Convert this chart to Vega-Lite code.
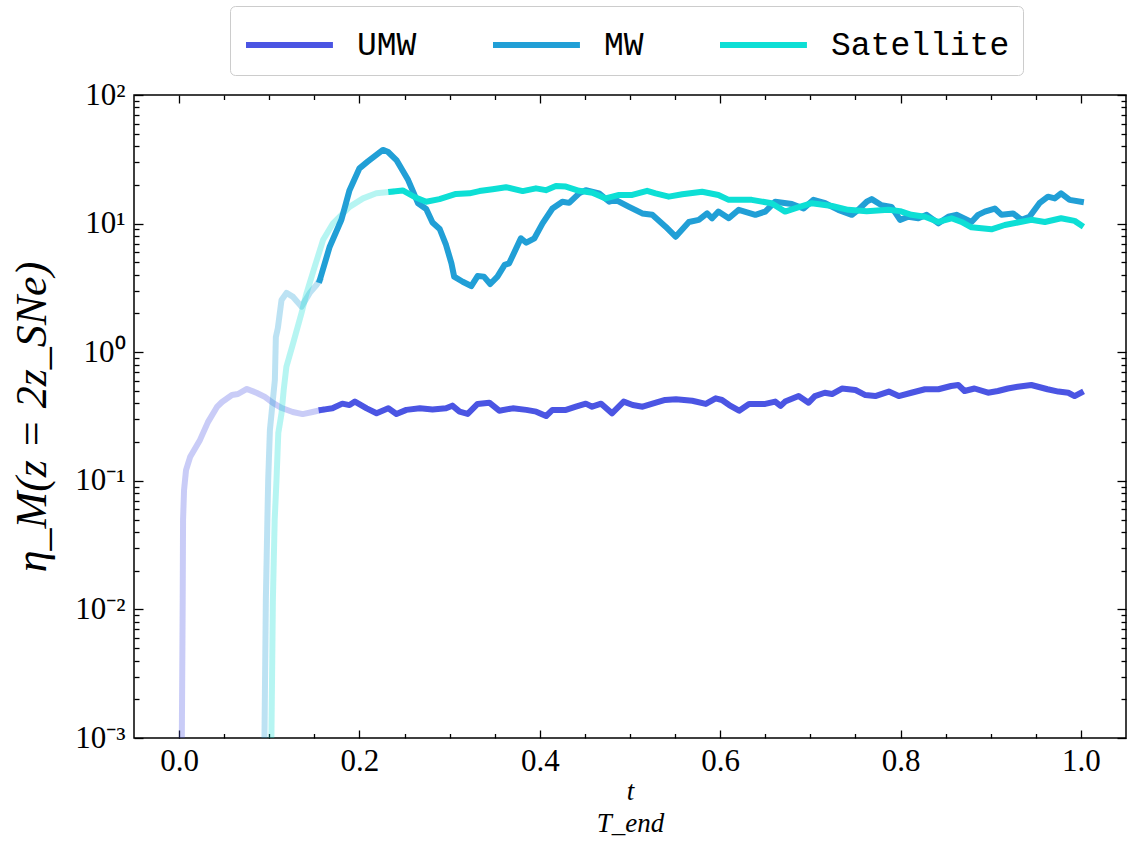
{
  "$schema": "https://vega.github.io/schema/vega-lite/v6.json",
  "width": 992,
  "height": 643,
  "autosize": {"type": "none"},
  "padding": {"left": 134, "top": 95, "right": 2, "bottom": 105},
  "background": "white",
  "config": {
    "font": "Liberation Serif",
    "view": {"stroke": "black", "strokeWidth": 1.5},
    "axis": {
      "grid": false,
      "domain": false,
      "tickColor": "black",
      "tickWidth": 1.3,
      "labelColor": "black",
      "labelFont": "Liberation Serif",
      "labelFontSize": 31,
      "labelFlush": false,
      "labelOverlap": false,
      "titleColor": "black",
      "titleFont": "Liberation Serif"
    }
  },
  "data": {
    "values": [
      {"s":"UMW","g":"f","t":0.003,"v":0.0009},
      {"s":"UMW","g":"f","t":0.004,"v":0.0118},
      {"s":"UMW","g":"f","t":0.0044,"v":0.0496},
      {"s":"UMW","g":"f","t":0.0055,"v":0.0848},
      {"s":"UMW","g":"f","t":0.0077,"v":0.121},
      {"s":"UMW","g":"f","t":0.0122,"v":0.153},
      {"s":"UMW","g":"f","t":0.0232,"v":0.208},
      {"s":"UMW","g":"f","t":0.032,"v":0.286},
      {"s":"UMW","g":"f","t":0.042,"v":0.375},
      {"s":"UMW","g":"f","t":0.0476,"v":0.41},
      {"s":"UMW","g":"f","t":0.0586,"v":0.465},
      {"s":"UMW","g":"f","t":0.0653,"v":0.473},
      {"s":"UMW","g":"f","t":0.0752,"v":0.518},
      {"s":"UMW","g":"f","t":0.0863,"v":0.482},
      {"s":"UMW","g":"f","t":0.0951,"v":0.449},
      {"s":"UMW","g":"f","t":0.104,"v":0.403},
      {"s":"UMW","g":"f","t":0.114,"v":0.368},
      {"s":"UMW","g":"f","t":0.126,"v":0.343},
      {"s":"UMW","g":"f","t":0.137,"v":0.33},
      {"s":"UMW","g":"f","t":0.148,"v":0.343},
      {"s":"UMW","g":"f","t":0.158,"v":0.356},
      {"s":"UMW","g":"s","t":0.158,"v":0.356},
      {"s":"UMW","g":"s","t":0.170,"v":0.366},
      {"s":"UMW","g":"s","t":0.181,"v":0.398},
      {"s":"UMW","g":"s","t":0.189,"v":0.388},
      {"s":"UMW","g":"s","t":0.195,"v":0.413},
      {"s":"UMW","g":"s","t":0.208,"v":0.366},
      {"s":"UMW","g":"s","t":0.219,"v":0.335},
      {"s":"UMW","g":"s","t":0.232,"v":0.366},
      {"s":"UMW","g":"s","t":0.241,"v":0.331},
      {"s":"UMW","g":"s","t":0.252,"v":0.356},
      {"s":"UMW","g":"s","t":0.267,"v":0.366},
      {"s":"UMW","g":"s","t":0.281,"v":0.359},
      {"s":"UMW","g":"s","t":0.296,"v":0.366},
      {"s":"UMW","g":"s","t":0.303,"v":0.384},
      {"s":"UMW","g":"s","t":0.311,"v":0.345},
      {"s":"UMW","g":"s","t":0.320,"v":0.331},
      {"s":"UMW","g":"s","t":0.331,"v":0.396},
      {"s":"UMW","g":"s","t":0.344,"v":0.405},
      {"s":"UMW","g":"s","t":0.355,"v":0.351},
      {"s":"UMW","g":"s","t":0.370,"v":0.366},
      {"s":"UMW","g":"s","t":0.385,"v":0.356},
      {"s":"UMW","g":"s","t":0.396,"v":0.345},
      {"s":"UMW","g":"s","t":0.407,"v":0.319},
      {"s":"UMW","g":"s","t":0.414,"v":0.356},
      {"s":"UMW","g":"s","t":0.429,"v":0.356},
      {"s":"UMW","g":"s","t":0.440,"v":0.377},
      {"s":"UMW","g":"s","t":0.451,"v":0.398},
      {"s":"UMW","g":"s","t":0.458,"v":0.377},
      {"s":"UMW","g":"s","t":0.468,"v":0.398},
      {"s":"UMW","g":"s","t":0.480,"v":0.335},
      {"s":"UMW","g":"s","t":0.493,"v":0.413},
      {"s":"UMW","g":"s","t":0.503,"v":0.388},
      {"s":"UMW","g":"s","t":0.514,"v":0.377},
      {"s":"UMW","g":"s","t":0.525,"v":0.398},
      {"s":"UMW","g":"s","t":0.539,"v":0.425},
      {"s":"UMW","g":"s","t":0.551,"v":0.430},
      {"s":"UMW","g":"s","t":0.569,"v":0.419},
      {"s":"UMW","g":"s","t":0.584,"v":0.396},
      {"s":"UMW","g":"s","t":0.595,"v":0.438},
      {"s":"UMW","g":"s","t":0.602,"v":0.425},
      {"s":"UMW","g":"s","t":0.610,"v":0.388},
      {"s":"UMW","g":"s","t":0.621,"v":0.351},
      {"s":"UMW","g":"s","t":0.632,"v":0.396},
      {"s":"UMW","g":"s","t":0.650,"v":0.396},
      {"s":"UMW","g":"s","t":0.661,"v":0.413},
      {"s":"UMW","g":"s","t":0.667,"v":0.382},
      {"s":"UMW","g":"s","t":0.672,"v":0.413},
      {"s":"UMW","g":"s","t":0.687,"v":0.456},
      {"s":"UMW","g":"s","t":0.698,"v":0.405},
      {"s":"UMW","g":"s","t":0.705,"v":0.456},
      {"s":"UMW","g":"s","t":0.716,"v":0.484},
      {"s":"UMW","g":"s","t":0.724,"v":0.473},
      {"s":"UMW","g":"s","t":0.735,"v":0.522},
      {"s":"UMW","g":"s","t":0.750,"v":0.508},
      {"s":"UMW","g":"s","t":0.761,"v":0.464},
      {"s":"UMW","g":"s","t":0.772,"v":0.456},
      {"s":"UMW","g":"s","t":0.787,"v":0.494},
      {"s":"UMW","g":"s","t":0.798,"v":0.456},
      {"s":"UMW","g":"s","t":0.812,"v":0.484},
      {"s":"UMW","g":"s","t":0.827,"v":0.515},
      {"s":"UMW","g":"s","t":0.842,"v":0.515},
      {"s":"UMW","g":"s","t":0.856,"v":0.546},
      {"s":"UMW","g":"s","t":0.864,"v":0.556},
      {"s":"UMW","g":"s","t":0.871,"v":0.499},
      {"s":"UMW","g":"s","t":0.882,"v":0.522},
      {"s":"UMW","g":"s","t":0.897,"v":0.484},
      {"s":"UMW","g":"s","t":0.908,"v":0.499},
      {"s":"UMW","g":"s","t":0.919,"v":0.522},
      {"s":"UMW","g":"s","t":0.930,"v":0.539},
      {"s":"UMW","g":"s","t":0.945,"v":0.556},
      {"s":"UMW","g":"s","t":0.963,"v":0.515},
      {"s":"UMW","g":"s","t":0.975,"v":0.494},
      {"s":"UMW","g":"s","t":0.986,"v":0.484},
      {"s":"UMW","g":"s","t":0.993,"v":0.456},
      {"s":"UMW","g":"s","t":1.0,"v":0.484},
      {"s":"MW","g":"f","t":0.0946,"v":0.0009},
      {"s":"MW","g":"f","t":0.0962,"v":0.0118},
      {"s":"MW","g":"f","t":0.0979,"v":0.0496},
      {"s":"MW","g":"f","t":0.0988,"v":0.1014},
      {"s":"MW","g":"f","t":0.1007,"v":0.248},
      {"s":"MW","g":"f","t":0.1062,"v":0.608},
      {"s":"MW","g":"f","t":0.1073,"v":1.31},
      {"s":"MW","g":"f","t":0.1095,"v":1.54},
      {"s":"MW","g":"f","t":0.1136,"v":2.55},
      {"s":"MW","g":"f","t":0.1191,"v":2.89},
      {"s":"MW","g":"f","t":0.1264,"v":2.69},
      {"s":"MW","g":"f","t":0.1357,"v":2.26},
      {"s":"MW","g":"f","t":0.1449,"v":2.89},
      {"s":"MW","g":"f","t":0.1523,"v":3.33},
      {"s":"MW","g":"f","t":0.156,"v":3.64},
      {"s":"MW","g":"s","t":0.156,"v":3.64},
      {"s":"MW","g":"s","t":0.167,"v":6.61},
      {"s":"MW","g":"s","t":0.180,"v":10.7},
      {"s":"MW","g":"s","t":0.189,"v":18.2},
      {"s":"MW","g":"s","t":0.200,"v":26.9},
      {"s":"MW","g":"s","t":0.209,"v":30.3},
      {"s":"MW","g":"s","t":0.226,"v":37.4},
      {"s":"MW","g":"s","t":0.2315,"v":36.2},
      {"s":"MW","g":"s","t":0.241,"v":31.2},
      {"s":"MW","g":"s","t":0.254,"v":21.8},
      {"s":"MW","g":"s","t":0.265,"v":14.4},
      {"s":"MW","g":"s","t":0.274,"v":13.0},
      {"s":"MW","g":"s","t":0.281,"v":10.2},
      {"s":"MW","g":"s","t":0.289,"v":9.08},
      {"s":"MW","g":"s","t":0.296,"v":6.82},
      {"s":"MW","g":"s","t":0.302,"v":4.91},
      {"s":"MW","g":"s","t":0.305,"v":3.87},
      {"s":"MW","g":"s","t":0.3145,"v":3.53},
      {"s":"MW","g":"s","t":0.324,"v":3.27},
      {"s":"MW","g":"s","t":0.331,"v":3.91},
      {"s":"MW","g":"s","t":0.338,"v":3.87},
      {"s":"MW","g":"s","t":0.345,"v":3.39},
      {"s":"MW","g":"s","t":0.353,"v":3.87},
      {"s":"MW","g":"s","t":0.361,"v":4.77},
      {"s":"MW","g":"s","t":0.366,"v":4.91},
      {"s":"MW","g":"s","t":0.379,"v":7.69},
      {"s":"MW","g":"s","t":0.385,"v":7.10},
      {"s":"MW","g":"s","t":0.394,"v":7.69},
      {"s":"MW","g":"s","t":0.403,"v":10.05},
      {"s":"MW","g":"s","t":0.414,"v":13.1},
      {"s":"MW","g":"s","t":0.425,"v":14.8},
      {"s":"MW","g":"s","t":0.4325,"v":14.5},
      {"s":"MW","g":"s","t":0.4436,"v":17.2},
      {"s":"MW","g":"s","t":0.451,"v":18.2},
      {"s":"MW","g":"s","t":0.4657,"v":17.2},
      {"s":"MW","g":"s","t":0.477,"v":14.8},
      {"s":"MW","g":"s","t":0.484,"v":15.3},
      {"s":"MW","g":"s","t":0.499,"v":13.5},
      {"s":"MW","g":"s","t":0.5136,"v":12.0},
      {"s":"MW","g":"s","t":0.5247,"v":11.7},
      {"s":"MW","g":"s","t":0.5395,"v":9.46},
      {"s":"MW","g":"s","t":0.5506,"v":7.91},
      {"s":"MW","g":"s","t":0.5653,"v":10.3},
      {"s":"MW","g":"s","t":0.5763,"v":10.7},
      {"s":"MW","g":"s","t":0.5855,"v":12.0},
      {"s":"MW","g":"s","t":0.591,"v":11.0},
      {"s":"MW","g":"s","t":0.598,"v":12.4},
      {"s":"MW","g":"s","t":0.6095,"v":11.0},
      {"s":"MW","g":"s","t":0.6206,"v":12.8},
      {"s":"MW","g":"s","t":0.639,"v":11.7},
      {"s":"MW","g":"s","t":0.650,"v":12.4},
      {"s":"MW","g":"s","t":0.661,"v":14.8},
      {"s":"MW","g":"s","t":0.6795,"v":14.2},
      {"s":"MW","g":"s","t":0.6925,"v":13.1},
      {"s":"MW","g":"s","t":0.7035,"v":15.3},
      {"s":"MW","g":"s","t":0.7165,"v":14.4},
      {"s":"MW","g":"s","t":0.731,"v":12.8},
      {"s":"MW","g":"s","t":0.746,"v":11.7},
      {"s":"MW","g":"s","t":0.753,"v":12.8},
      {"s":"MW","g":"s","t":0.7625,"v":14.8},
      {"s":"MW","g":"s","t":0.768,"v":15.5},
      {"s":"MW","g":"s","t":0.779,"v":13.9},
      {"s":"MW","g":"s","t":0.790,"v":13.5},
      {"s":"MW","g":"s","t":0.7995,"v":10.7},
      {"s":"MW","g":"s","t":0.8086,"v":11.3},
      {"s":"MW","g":"s","t":0.8197,"v":11.0},
      {"s":"MW","g":"s","t":0.829,"v":11.7},
      {"s":"MW","g":"s","t":0.842,"v":10.05},
      {"s":"MW","g":"s","t":0.853,"v":11.3},
      {"s":"MW","g":"s","t":0.862,"v":11.7},
      {"s":"MW","g":"s","t":0.8786,"v":10.3},
      {"s":"MW","g":"s","t":0.886,"v":11.7},
      {"s":"MW","g":"s","t":0.8935,"v":12.4},
      {"s":"MW","g":"s","t":0.9045,"v":13.1},
      {"s":"MW","g":"s","t":0.912,"v":11.7},
      {"s":"MW","g":"s","t":0.9248,"v":12.0},
      {"s":"MW","g":"s","t":0.934,"v":10.7},
      {"s":"MW","g":"s","t":0.943,"v":11.3},
      {"s":"MW","g":"s","t":0.954,"v":14.4},
      {"s":"MW","g":"s","t":0.9635,"v":16.2},
      {"s":"MW","g":"s","t":0.971,"v":15.7},
      {"s":"MW","g":"s","t":0.978,"v":17.2},
      {"s":"MW","g":"s","t":0.9875,"v":15.3},
      {"s":"MW","g":"s","t":1.0,"v":14.8},
      {"s":"Satellite","g":"f","t":0.1023,"v":0.0009},
      {"s":"Satellite","g":"f","t":0.104,"v":0.0118},
      {"s":"Satellite","g":"f","t":0.106,"v":0.0496},
      {"s":"Satellite","g":"f","t":0.108,"v":0.1014},
      {"s":"Satellite","g":"f","t":0.110,"v":0.235},
      {"s":"Satellite","g":"f","t":0.1136,"v":0.335},
      {"s":"Satellite","g":"f","t":0.116,"v":0.508},
      {"s":"Satellite","g":"f","t":0.119,"v":0.771},
      {"s":"Satellite","g":"f","t":0.1264,"v":1.17},
      {"s":"Satellite","g":"f","t":0.1357,"v":2.01},
      {"s":"Satellite","g":"f","t":0.1413,"v":2.87},
      {"s":"Satellite","g":"f","t":0.1504,"v":4.62},
      {"s":"Satellite","g":"f","t":0.1596,"v":7.45},
      {"s":"Satellite","g":"f","t":0.1707,"v":10.05},
      {"s":"Satellite","g":"f","t":0.189,"v":13.5},
      {"s":"Satellite","g":"f","t":0.204,"v":15.7},
      {"s":"Satellite","g":"f","t":0.2187,"v":17.2},
      {"s":"Satellite","g":"f","t":0.2353,"v":17.7},
      {"s":"Satellite","g":"s","t":0.2353,"v":17.7},
      {"s":"Satellite","g":"s","t":0.248,"v":18.1},
      {"s":"Satellite","g":"s","t":0.261,"v":16.1},
      {"s":"Satellite","g":"s","t":0.274,"v":14.8},
      {"s":"Satellite","g":"s","t":0.2887,"v":15.5},
      {"s":"Satellite","g":"s","t":0.307,"v":17.0},
      {"s":"Satellite","g":"s","t":0.322,"v":17.2},
      {"s":"Satellite","g":"s","t":0.333,"v":17.9},
      {"s":"Satellite","g":"s","t":0.3477,"v":18.5},
      {"s":"Satellite","g":"s","t":0.3625,"v":19.2},
      {"s":"Satellite","g":"s","t":0.381,"v":17.9},
      {"s":"Satellite","g":"s","t":0.3957,"v":18.8},
      {"s":"Satellite","g":"s","t":0.4067,"v":18.2},
      {"s":"Satellite","g":"s","t":0.4178,"v":19.6},
      {"s":"Satellite","g":"s","t":0.4289,"v":19.4},
      {"s":"Satellite","g":"s","t":0.4436,"v":18.0},
      {"s":"Satellite","g":"s","t":0.4583,"v":17.4},
      {"s":"Satellite","g":"s","t":0.473,"v":15.7},
      {"s":"Satellite","g":"s","t":0.4878,"v":16.7},
      {"s":"Satellite","g":"s","t":0.5025,"v":16.7},
      {"s":"Satellite","g":"s","t":0.519,"v":18.0},
      {"s":"Satellite","g":"s","t":0.5284,"v":17.2},
      {"s":"Satellite","g":"s","t":0.543,"v":16.2},
      {"s":"Satellite","g":"s","t":0.558,"v":16.9},
      {"s":"Satellite","g":"s","t":0.580,"v":17.7},
      {"s":"Satellite","g":"s","t":0.598,"v":16.7},
      {"s":"Satellite","g":"s","t":0.6095,"v":15.3},
      {"s":"Satellite","g":"s","t":0.635,"v":15.3},
      {"s":"Satellite","g":"s","t":0.657,"v":14.4},
      {"s":"Satellite","g":"s","t":0.672,"v":12.4},
      {"s":"Satellite","g":"s","t":0.688,"v":13.5},
      {"s":"Satellite","g":"s","t":0.7017,"v":14.4},
      {"s":"Satellite","g":"s","t":0.724,"v":13.7},
      {"s":"Satellite","g":"s","t":0.742,"v":12.8},
      {"s":"Satellite","g":"s","t":0.7625,"v":12.5},
      {"s":"Satellite","g":"s","t":0.7865,"v":12.8},
      {"s":"Satellite","g":"s","t":0.7995,"v":12.5},
      {"s":"Satellite","g":"s","t":0.812,"v":11.7},
      {"s":"Satellite","g":"s","t":0.827,"v":11.3},
      {"s":"Satellite","g":"s","t":0.842,"v":10.3},
      {"s":"Satellite","g":"s","t":0.8565,"v":11.0},
      {"s":"Satellite","g":"s","t":0.8676,"v":10.3},
      {"s":"Satellite","g":"s","t":0.8786,"v":9.36},
      {"s":"Satellite","g":"s","t":0.9008,"v":9.03},
      {"s":"Satellite","g":"s","t":0.9156,"v":9.75},
      {"s":"Satellite","g":"s","t":0.930,"v":10.2},
      {"s":"Satellite","g":"s","t":0.945,"v":10.7},
      {"s":"Satellite","g":"s","t":0.960,"v":10.3},
      {"s":"Satellite","g":"s","t":0.978,"v":11.0},
      {"s":"Satellite","g":"s","t":0.993,"v":10.5},
      {"s":"Satellite","g":"s","t":1.0,"v":9.75}
    ]
  },
  "resolve": {"axis": {"x": "independent", "y": "independent"}},
  "layer": [
    {
      "transform": [{"filter": "datum.g == 'f'"}],
      "mark": {"type": "line", "strokeWidth": 6, "opacity": 0.3, "clip": true, "strokeCap": "square", "strokeJoin": "round"},
      "encoding": {
        "x": {"field": "t", "type": "quantitative",
          "scale": {"domain": [-0.05, 1.05], "nice": false, "zero": false},
          "axis": {"orient": "bottom", "values": [0, 0.2, 0.4, 0.6, 0.8, 1.0], "format": ".1f", "tickSize": -8, "labelPadding": 16,
            "title": ["t", "T_end"], "titleFontSize": 27, "titleFontStyle": "italic", "titleFontWeight": "normal", "titleLineHeight": 32, "titlePadding": 2}},
        "y": {"field": "v", "type": "quantitative",
          "scale": {"type": "log", "domain": [0.001, 100], "nice": false},
          "axis": {"orient": "left", "values": [0.001, 0.01, 0.1, 1, 10, 100], "tickSize": -9, "labelPadding": 18,
            "labelExpr": "['10⁻³','10⁻²','10⁻¹','10⁰','10¹','10²'][round(log(datum.value)/LN10)+3]",
            "title": "η_M(z = 2z_SNe)", "titleFontSize": 44, "titleFontStyle": "italic", "titleFontWeight": "normal", "titlePadding": 20}},
        "color": {"field": "s", "type": "nominal",
          "scale": {"domain": ["UMW", "MW", "Satellite"], "range": ["#4b55e3", "#219fd6", "#0ddfd5"]},
          "legend": {"orient": "none", "legendX": 96, "legendY": -89, "direction": "horizontal", "title": null,
            "symbolType": "M-1,0H2.78", "symbolSize": 2116, "symbolStrokeWidth": 6, "symbolOpacity": 1,
            "labelFont": "Liberation Mono", "labelFontSize": 33, "labelColor": "black", "labelOffset": 62, "labelLimit": 0, "columnPadding": 64,
            "padding": 13, "strokeColor": "#cccccc", "fillColor": "white", "cornerRadius": 5}}
      }
    },
    {
      "transform": [{"filter": "datum.g == 's' && datum.s == 'UMW'"}],
      "mark": {"type": "line", "strokeWidth": 6, "clip": true, "strokeCap": "square", "strokeJoin": "round"},
      "encoding": {
        "x": {"field": "t", "type": "quantitative",
          "axis": {"orient": "bottom", "values": [0.05, 0.1, 0.15, 0.25, 0.3, 0.35, 0.45, 0.5, 0.55, 0.65, 0.7, 0.75, 0.85, 0.9, 0.95], "labels": false, "tickSize": -4.5, "title": null}},
        "y": {"field": "v", "type": "quantitative",
          "axis": {"orient": "left", "values": [0.002,0.003,0.004,0.005,0.006,0.007,0.008,0.009,0.02,0.03,0.04,0.05,0.06,0.07,0.08,0.09,0.2,0.3,0.4,0.5,0.6,0.7,0.8,0.9,2,3,4,5,6,7,8,9,20,30,40,50,60,70,80,90], "labels": false, "tickSize": -5, "title": null}},
        "color": {"field": "s", "type": "nominal"}
      }
    },
    {
      "transform": [{"filter": "datum.g == 's' && datum.s == 'MW'"}],
      "mark": {"type": "line", "strokeWidth": 6, "clip": true, "strokeCap": "square", "strokeJoin": "round"},
      "encoding": {
        "x": {"field": "t", "type": "quantitative",
          "axis": {"orient": "top", "values": [0, 0.2, 0.4, 0.6, 0.8, 1.0], "labels": false, "tickSize": -8, "title": null}},
        "y": {"field": "v", "type": "quantitative",
          "axis": {"orient": "right", "values": [0.001, 0.01, 0.1, 1, 10, 100], "labels": false, "tickSize": -9, "title": null}},
        "color": {"field": "s", "type": "nominal"}
      }
    },
    {
      "transform": [{"filter": "datum.g == 's' && datum.s == 'Satellite'"}],
      "mark": {"type": "line", "strokeWidth": 6, "clip": true, "strokeCap": "square", "strokeJoin": "round"},
      "encoding": {
        "x": {"field": "t", "type": "quantitative",
          "axis": {"orient": "top", "values": [0.05, 0.1, 0.15, 0.25, 0.3, 0.35, 0.45, 0.5, 0.55, 0.65, 0.7, 0.75, 0.85, 0.9, 0.95], "labels": false, "tickSize": -4.5, "title": null}},
        "y": {"field": "v", "type": "quantitative",
          "axis": {"orient": "right", "values": [0.002,0.003,0.004,0.005,0.006,0.007,0.008,0.009,0.02,0.03,0.04,0.05,0.06,0.07,0.08,0.09,0.2,0.3,0.4,0.5,0.6,0.7,0.8,0.9,2,3,4,5,6,7,8,9,20,30,40,50,60,70,80,90], "labels": false, "tickSize": -5, "title": null}},
        "color": {"field": "s", "type": "nominal"}
      }
    }
  ]
}
